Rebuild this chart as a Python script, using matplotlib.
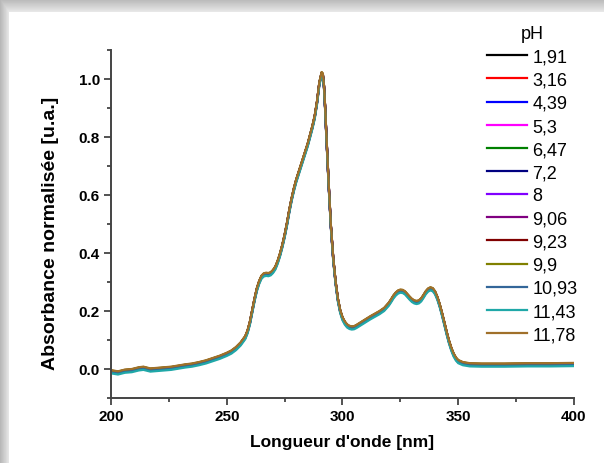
import numpy as np
import matplotlib.pyplot as plt

# longueur d'onde (nm) et spectre moyen
wl = [200, 203, 206, 209, 212, 214, 217, 220, 223, 226, 229, 232, 235, 238, 241, 244,
      247, 250, 252, 254, 256, 258, 259, 260, 261, 262, 263, 264, 265, 266, 267, 268,
      269, 270, 271, 272, 273, 274, 275, 276, 277, 278, 279, 280, 281, 282, 283, 284,
      285, 286, 287, 288, 289, 290, 291, 291.5, 292, 292.5, 293, 294, 295, 296, 297,
      298, 299, 300, 301, 302, 303, 304, 305, 306, 308, 310, 312, 314, 316, 318, 320,
      321, 322, 323, 324, 325, 326, 327, 328, 329, 330, 331, 332, 333, 334, 335, 336,
      337, 338, 339, 340, 341, 342, 343, 344, 345, 346, 347, 348, 349, 350, 352, 355,
      360, 370, 380, 390, 400]
base = [-0.008, -0.012, -0.006, -0.004, 0.002, 0.004, -0.002, 0.000, 0.002, 0.004, 0.008,
        0.012, 0.015, 0.020, 0.026, 0.034, 0.042, 0.052, 0.060, 0.072, 0.088, 0.110, 0.130,
        0.160, 0.200, 0.240, 0.275, 0.300, 0.318, 0.326, 0.328, 0.327, 0.330, 0.338, 0.350,
        0.370, 0.395, 0.425, 0.460, 0.500, 0.545, 0.585, 0.620, 0.650, 0.675, 0.700, 0.725,
        0.750, 0.775, 0.805, 0.835, 0.870, 0.920, 0.985, 1.020, 1.015, 0.975, 0.900, 0.810,
        0.640, 0.490, 0.380, 0.300, 0.240, 0.200, 0.175, 0.160, 0.150, 0.145, 0.143, 0.144,
        0.148, 0.158, 0.168, 0.178, 0.187, 0.196, 0.207, 0.225, 0.237, 0.250, 0.260, 0.267,
        0.270, 0.269, 0.264, 0.255, 0.246, 0.238, 0.233, 0.231, 0.233, 0.240, 0.252, 0.265,
        0.274, 0.278, 0.275, 0.264, 0.245, 0.220, 0.190, 0.158, 0.125, 0.095, 0.070, 0.050,
        0.036, 0.027, 0.020, 0.016, 0.015, 0.015, 0.016, 0.016, 0.017]

ph_labels = ['1,91', '3,16', '4,39', '5,3', '6,47', '7,2', '8', '9,06', '9,23', '9,9',
             '10,93', '11,43', '11,78']
# petits decalages entre les spectres
offsets = [0.0, -0.004, 0.001, 0.0, 0.002, -0.001, 0.001, 0.0, 0.002, 0.003,
           -0.003, -0.007, 0.004]
colors = ['#000000', '#ff0000', '#0000ff', '#ff00ff', '#008000', '#000080', '#8000ff',
          '#800080', '#800000', '#808000', '#336699', '#20a8a8', '#a0702a']

wl = np.array(wl)
base = np.array(base)

fig = plt.figure(figsize=(6.04, 4.64), dpi=100)
plt.rcParams['font.family'] = ['Liberation Sans', 'DejaVu Sans']

# fond avec ombre en haut et a gauche
bg = fig.add_axes([0, 0, 1, 1])
img = np.ones((464, 604))
for i in range(13):
    img[i, :] = 0.72 + 0.2 * i / 13
for j in range(9):
    img[:, j] = np.minimum(img[:, j], 0.72 + 0.2 * j / 9)
bg.imshow(img, cmap='gray', vmin=0, vmax=1, aspect='auto', interpolation='bilinear')
bg.axis('off')

ax = fig.add_axes([0.1838, 0.1401, 0.7665, 0.75])
for lab, off, c in zip(ph_labels, offsets, colors):
    ax.plot(wl, base + off, color=c, lw=1.6, label=lab)

ax.set_xlim(200, 400)
ax.set_ylim(-0.1, 1.1)
ax.set_xticks([200, 250, 300, 350, 400])
ax.set_xticks([225, 275, 325, 375], minor=True)
ax.set_yticks([0.0, 0.2, 0.4, 0.6, 0.8, 1.0])
ax.set_yticks([-0.1, 0.1, 0.3, 0.5, 0.7, 0.9, 1.1], minor=True)
ax.set_yticklabels(['0.0', '0.2', '0.4', '0.6', '0.8', '1.0'])
ax.spines['top'].set_visible(False)
ax.spines['right'].set_visible(False)
for s in ['left', 'bottom']:
    ax.spines[s].set_color('#444444')
    ax.spines[s].set_linewidth(1.4)
ax.tick_params(which='major', length=5, width=1.3, color='#444444', labelsize=11, pad=3)
ax.tick_params(which='minor', length=3, width=1.3, color='#444444')
for t in ax.get_xticklabels() + ax.get_yticklabels():
    t.set_fontweight('bold')

ax.set_xlabel("Longueur d'onde [nm]", fontsize=12.5, fontweight='bold', labelpad=8)
ax.set_ylabel('Absorbance normalisée [u.a.]', fontsize=14, fontweight='bold')
ax.yaxis.set_label_coords(-0.113, 0.475)

leg = fig.legend(loc='upper left', bbox_to_anchor=(0.78, 0.978), frameon=False,
                 title='pH', fontsize=13, title_fontsize=13, handlelength=2.2,
                 handletextpad=0.3, labelspacing=0.34)

fig.savefig('out.png', dpi=100)
